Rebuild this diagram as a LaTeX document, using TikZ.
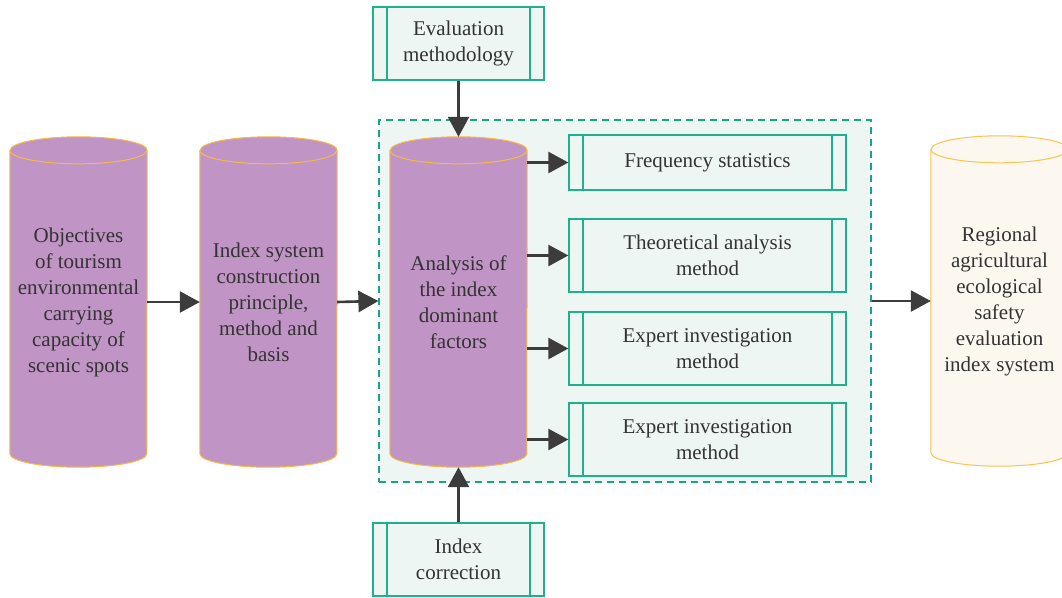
\documentclass[tikz,border=0pt]{standalone}
\usepackage{fontspec}
\setmainfont{Liberation Serif}
\usetikzlibrary{arrows.meta,backgrounds}

\definecolor{cylfill}{HTML}{C094C4}
\definecolor{cylline}{HTML}{F5BB45}
\definecolor{outfill}{HTML}{FDF8EF}
\definecolor{outline}{HTML}{F7C450}
\definecolor{boxfill}{HTML}{EEF6F3}
\definecolor{boxline}{HTML}{1FB18E}
\definecolor{grpfill}{HTML}{EEF6F3}
\definecolor{grpline}{HTML}{17A589}
\definecolor{ink}{HTML}{333333}
\definecolor{arrowc}{HTML}{3C3C3C}

\tikzset{
  txt/.style={text=ink, font=\fontsize{21}{26}\selectfont, align=center},
  cylnode/.style={txt, rectangle, minimum width=137pt, minimum height=330pt, inner sep=0pt},
  procbox/.style={txt, rectangle, draw=boxline, fill=boxfill, line width=1.3pt, inner sep=0pt,
    minimum width=171pt, minimum height=73pt,
    path picture={\draw[boxline, line width=1.1pt]
      ([xshift=14pt]path picture bounding box.north west) -- ([xshift=14pt]path picture bounding box.south west)
      ([xshift=-14pt]path picture bounding box.north east) -- ([xshift=-14pt]path picture bounding box.south east);}},
  methbox/.style={procbox, minimum width=277pt},
  grpbox/.style={rectangle, draw=grpline, fill=grpfill, line width=1.2pt,
    dash pattern=on 7pt off 5pt, minimum width=492pt, minimum height=362pt, inner sep=0pt},
  flow/.style={draw=arrowc, line width=2.6pt, -{Triangle[length=20pt, width=21pt]}},
}

% cylinder body and rims around a named node: name, fill, outline
\newcommand\cylshape[3]{%
  \path[fill=#2, draw=#3, line width=1pt]
    ([yshift=-13.5pt]#1.north west) -- ([yshift=13.5pt]#1.south west)
    arc[start angle=180, end angle=360, x radius=68.5pt, y radius=13.5pt]
    -- ([yshift=-13.5pt]#1.north east)
    arc[start angle=0, end angle=180, x radius=68.5pt, y radius=13.5pt] -- cycle;
  \draw[#3, line width=1pt] ([yshift=-13.5pt]#1.north west)
    arc[start angle=180, end angle=360, x radius=68.5pt, y radius=13.5pt];
}

\begin{document}
\begin{tikzpicture}[x=1pt, y=1pt]
  \path[use as bounding box] (0,0) rectangle (1062,-597);

  % cylinders (text)
  \node[cylnode] (c1) at (78.5,-302) {Objectives\\of tourism\\environmental\\carrying\\capacity of\\scenic spots};
  \node[cylnode] (c2) at (268.5,-302) {Index system\\construction\\principle,\\method and\\basis};
  \node[cylnode] (c3) at (458.5,-302) {Analysis of\\the index\\dominant\\factors};
  \node[cylnode] (c4) at (999.5,-301) {Regional\\agricultural\\ecological\\safety\\evaluation\\index system};

  % group frame and cylinder bodies underneath
  \begin{scope}[on background layer]
    \node[grpbox] (grp) at (625,-301) {};
    \cylshape{c1}{cylfill}{cylline}
    \cylshape{c2}{cylfill}{cylline}
    \cylshape{c3}{cylfill}{cylline}
    \cylshape{c4}{outfill}{outline}
  \end{scope}

  % process boxes
  \node[procbox] (ev) at (458.5,-43.5) {Evaluation\\methodology};
  \node[procbox] (ix) at (458.5,-559.5) {Index\\correction};
  \node[methbox, minimum height=55pt] (m1) at (707.5,-162.5) {Frequency statistics};
  \node[methbox] (m2) at (707.5,-255.5) {Theoretical analysis\\method};
  \node[methbox] (m3) at (707.5,-348.5) {Expert investigation\\method};
  \node[methbox] (m4) at (707.5,-439.5) {Expert investigation\\method};

  % connectors
  \draw[flow] (c1.east) -- (c2.west);
  \draw[flow] (c2.east) -- (grp.west);
  \draw[flow] (grp.east) -- (c4.west);
  \draw[flow] (ev.south) -- (c3.north);
  \draw[flow] (ix.north) -- (c3.south);
  \foreach \m in {m1,m2,m3,m4}
    \draw[flow] (c3.east |- \m.west) -- (\m.west);
\end{tikzpicture}
\end{document}
